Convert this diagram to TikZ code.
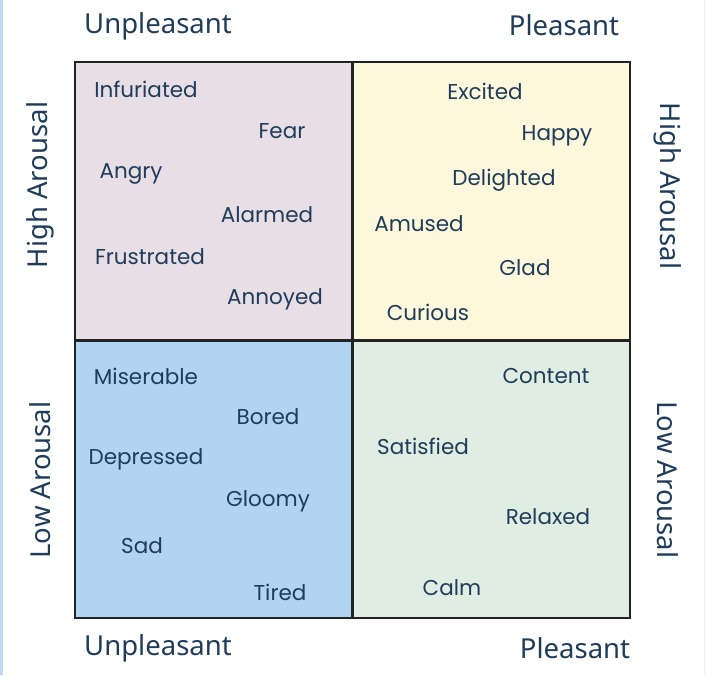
\documentclass[tikz,border=0pt]{standalone}
\usepackage{fontspec}
\setmainfont{Noto Sans}
\newfontfamily\wordfont{Poppins}
\definecolor{txt}{HTML}{1F3D5A}
\definecolor{qtl}{HTML}{E8DEE6}
\definecolor{qtr}{HTML}{FDF7DC}
\definecolor{qbl}{HTML}{B0D4F2}
\definecolor{qbr}{HTML}{E0EDE3}
\definecolor{gridline}{HTML}{222222}
\definecolor{sidebar}{HTML}{BADDF4}
\begin{document}
\begin{tikzpicture}[x=1pt,y=-1pt,
  word/.style={text=txt,font=\wordfont\fontsize{21.5}{25}\selectfont,inner sep=0pt,anchor=center},
  axis/.style={text=txt,font=\fontsize{27.5}{32}\selectfont,inner sep=0pt,anchor=center}]
\useasboundingbox[fill=white] (0,0) rectangle (706,675);
\fill[sidebar] (0,0) rectangle (3,675);
\fill[black!7] (703.5,0) rectangle (704.5,675);
% quadrants
\fill[qtl] (75,62) rectangle (352,340);
\fill[qtr] (352,62) rectangle (630,340);
\fill[qbl] (75,340) rectangle (352,618);
\fill[qbr] (352,340) rectangle (630,618);
\draw[gridline,line width=2pt] (75,62) rectangle (630,618);
\draw[gridline,line width=3pt] (352,62) -- (352,618);
\draw[gridline,line width=3pt] (75,340) -- (630,340);
% axis labels
\node[axis] (ut) at (158,26) {Unpleasant};
\node[axis] (pt) at (564,25) {Pleasant};
\node[axis] (ub) at (158,648) {Unpleasant};
\node[axis] (pb) at (575,648) {Pleasant};
\node[axis,rotate=90] (hal) at (40,185) {High Arousal};
\node[axis,rotate=90] (lal) at (40,480) {Low Arousal};
\node[axis,rotate=-90] (har) at (668,186) {High Arousal};
\node[axis,rotate=-90] (lar) at (668,480) {Low Arousal};
% top-left words
\node[word] (w1) at (146,89) {Infuriated};
\node[word] (w2) at (282,131) {Fear};
\node[word] (w3) at (131,174) {Angry};
\node[word] (w4) at (267,215) {Alarmed};
\node[word] (w5) at (150,257) {Frustrated};
\node[word] (w6) at (275,299) {Annoyed};
% top-right words
\node[word] (w7) at (485,91) {Excited};
\node[word] (w8) at (557,136) {Happy};
\node[word] (w9) at (504,180) {Delighted};
\node[word] (w10) at (419,224) {Amused};
\node[word] (w11) at (525,268) {Glad};
\node[word] (w12) at (428,312) {Curious};
% bottom-left words
\node[word] (w13) at (146,376) {Miserable};
\node[word] (w14) at (268,417) {Bored};
\node[word] (w15) at (146,459) {Depressed};
\node[word] (w16) at (268,501) {Gloomy};
\node[word] (w17) at (142,546) {Sad};
\node[word] (w18) at (280,592) {Tired};
% bottom-right words
\node[word] (w19) at (546,376) {Content};
\node[word] (w20) at (423,446) {Satisfied};
\node[word] (w21) at (548,517) {Relaxed};
\node[word] (w22) at (452,588) {Calm};
\end{tikzpicture}
\end{document}
